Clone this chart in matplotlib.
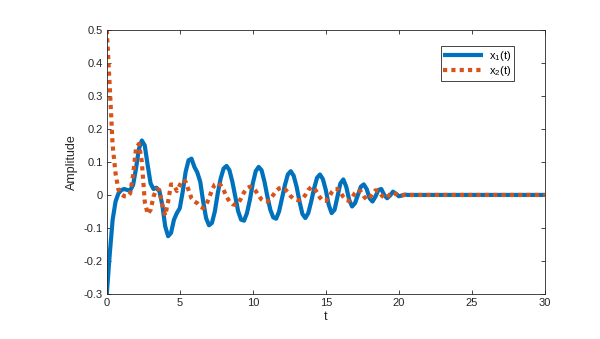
import numpy as np
import matplotlib
matplotlib.use("Agg")
import matplotlib.pyplot as plt

plt.rcParams["font.family"] = ["Liberation Sans", "DejaVu Sans"]
plt.rcParams["mathtext.fontset"] = "custom"
plt.rcParams["mathtext.rm"] = "Liberation Sans"

# =========================================================
# Data read from the reference (t sampled every 0.2, then flat)
# =========================================================

t_dense = [round(0.2 * i, 1) for i in range(105)]  # 0.0 ... 20.8
t_tail = [21, 22, 23, 24, 25, 26, 27, 28, 29, 30]

x1_dense = [
    -0.300, -0.180, -0.075, -0.020, 0.005, 0.015, 0.018, 0.015, 0.014, 0.030,
    0.080, 0.140, 0.165, 0.150, 0.090, 0.035, 0.018, 0.022, 0.012, -0.030,
    -0.095, -0.125, -0.115, -0.075, -0.055, -0.040, 0.010, 0.070, 0.105, 0.110,
    0.085, 0.068, 0.040, -0.020, -0.070, -0.092, -0.085, -0.050, 0.005, 0.050,
    0.080, 0.088, 0.075, 0.040, -0.005, -0.050, -0.075, -0.078, -0.055, -0.015,
    0.035, 0.072, 0.085, 0.075, 0.040, -0.005, -0.045, -0.068, -0.072, -0.050,
    -0.010, 0.030, 0.062, 0.072, 0.058, 0.025, -0.020, -0.058, -0.070, -0.055,
    -0.020, 0.020, 0.052, 0.062, 0.048, 0.015, -0.030, -0.055, -0.045, -0.005,
    0.035, 0.047, 0.025, -0.015, -0.035, -0.025, 0.000, 0.025, 0.032, 0.018,
    -0.010, -0.020, -0.005, 0.015, 0.018, 0.000, -0.010, -0.002, 0.010, 0.004,
    -0.004, -0.002, 0.001, 0.000, 0.000,
]

x2_dense = [
    0.500, 0.330, 0.150, 0.065, 0.015, 0.002, -0.004, -0.005, 0.005, 0.060,
    0.140, 0.155, 0.100, -0.020, -0.058, -0.045, -0.005, 0.018, 0.015, -0.030,
    -0.062, -0.020, 0.032, 0.030, 0.012, 0.030, 0.045, 0.040, 0.015, -0.010,
    -0.020, -0.025, -0.035, -0.040, -0.030, -0.010, 0.015, 0.032, 0.036, 0.030,
    0.015, -0.005, -0.020, -0.028, -0.030, -0.025, -0.010, 0.008, 0.020, 0.025,
    0.022, 0.012, -0.002, -0.014, -0.020, -0.020, -0.012, 0.000, 0.012, 0.020,
    0.022, 0.018, 0.008, -0.004, -0.012, -0.015, -0.016, -0.012, 0.000, 0.015,
    0.024, 0.020, 0.008, -0.008, -0.018, -0.018, -0.008, 0.008, 0.018, 0.018,
    0.008, -0.006, -0.016, -0.018, -0.008, 0.006, 0.015, 0.010, -0.004, -0.014,
    -0.010, 0.004, 0.014, 0.012, 0.000, -0.009, -0.008, 0.002, 0.007, 0.003,
    -0.002, -0.001, 0.000, 0.000, 0.000,
]

x_tail = [0.0] * len(t_tail)

t = t_dense + t_tail
x1 = x1_dense + x_tail
x2 = x2_dense + x_tail

x_ticks = [0, 5, 10, 15, 20, 25, 30]
y_ticks = [-0.3, -0.2, -0.1, 0, 0.1, 0.2, 0.3, 0.4, 0.5]

# =========================================================
# Plot
# =========================================================

fig = plt.figure(figsize=(6, 3.39), dpi=100)
ax = fig.add_axes([0.178, 0.133, 0.73, 0.7785])

ax.plot(t, x1, color="#0072BD", linewidth=3, label=r"x$_1$(t)",
        solid_joinstyle="round", solid_capstyle="butt")
ax.plot(t, x2, color="#D95319", linewidth=3, linestyle=(0, (1, 1)),
        label=r"x$_2$(t)")

ax.set_xlim(0, 30)
ax.set_ylim(-0.3, 0.5)
ax.set_xticks(x_ticks)
ax.set_yticks(y_ticks)
ax.set_yticklabels([f"{v:g}" for v in y_ticks])

ax.tick_params(direction="in", top=True, right=True, length=3,
               width=0.6, labelsize=8, colors="#262626", pad=3)
for spine in ax.spines.values():
    spine.set_linewidth(0.6)
    spine.set_color("#262626")

ax.set_xlabel("t", fontsize=9, color="#262626", labelpad=2)
ax.set_ylabel("Amplitude", fontsize=9, color="#262626", labelpad=4)

leg = ax.legend(loc="upper right", fontsize=8, handlelength=3.6,
                borderpad=0.25, labelspacing=0.1, handletextpad=0.5,
                fancybox=False, framealpha=1, bbox_to_anchor=(0.942, 0.96))
leg.get_frame().set_edgecolor("#262626")
leg.get_frame().set_linewidth(0.6)

fig.savefig("out.png", dpi=100)
